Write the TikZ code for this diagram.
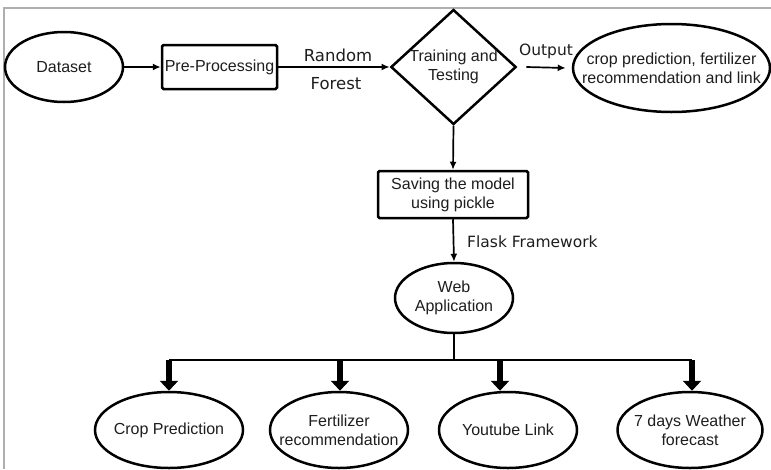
\documentclass[tikz,border=0pt]{standalone}
\usepackage{fontspec}
\setmainfont{Liberation Sans}
\newfontfamily\labfont{DejaVu Sans}
\usetikzlibrary{shapes.geometric,arrows.meta}
\definecolor{txt}{RGB}{30,30,30}
\definecolor{frame}{RGB}{175,175,175}
\tikzset{
  base/.style={draw=black, line width=2.5pt, text=txt, align=center, inner sep=0pt,
    font=\fontsize{16}{19}\selectfont},
  oval/.style={base, ellipse, inner xsep=-40pt, inner ysep=-20pt},
  box/.style={base, rectangle, rounded corners=1.5pt},
  dia/.style={base, diamond, aspect=1.09},
  lab/.style={text=txt, font=\labfont\fontsize{15.5}{18}\selectfont, inner sep=0pt},
  thin/.style={line width=1.7pt, -{Latex[length=8pt,width=7pt]}},
  thick/.style={line width=5.5pt, -{Triangle[length=10pt,width=18pt]}},
}
\begin{document}
\begin{tikzpicture}[x=1pt,y=-1pt]
\useasboundingbox (0,0) rectangle (771,469);
\fill[white] (0,0) rectangle (771,469);
\draw[frame, line width=1.2pt] (771,8) -- (4,8) -- (4,469);

\node[oval, minimum width=118pt, minimum height=70pt] (ds) at (64,67) {Dataset};
\node[box, minimum width=115pt, minimum height=44pt] (pp) at (219.5,67) {Pre-Processing};
\node[dia] (tt) at (453.5,67) {Training and\\Testing};
\node[oval, minimum width=197pt, minimum height=88pt] (out) at (671.5,68) {crop prediction, fertilizer\\recommendation and link};
\node[box, minimum width=150pt, minimum height=47pt] (sv) at (453,194.5) {Saving the model\\using pickle};
\node[oval, minimum width=118pt, minimum height=70pt] (web) at (454,298) {Web\\Application};

\node[oval, minimum width=148pt, minimum height=76pt] (c1) at (169,430) {Crop Prediction};
\node[oval, minimum width=138pt, minimum height=76pt] (c2) at (339,430) {Fertilizer\\recommendation};
\node[oval, minimum width=138pt, minimum height=76pt] (c3) at (508,430) {Youtube Link};
\node[oval, minimum width=145pt, minimum height=76pt] (c4) at (690,430) {7 days Weather\\forecast};

\draw[thin] (ds) -- (pp);
\draw[thin] (pp) -- (tt.west);
\node[lab, font=\labfont\fontsize{16.5}{19}\selectfont] (rnd) at (338,55) {Random};
\node[lab, font=\labfont\fontsize{16.5}{19}\selectfont] (frs) at (336,84) {Forest};

\coordinate (o1) at ([xshift=9pt]tt.east);
\coordinate (o2) at ([xshift=-6pt]out.west);
\draw[thin] (o1) -- (o2);
\node[lab] (outp) at (546,51) {Output};

\draw[thin] (tt.south) -- (sv.north);
\draw[thin] (sv.south) -- (web.north);
\node[lab, anchor=west] (flask) at (467,242) {Flask Framework};

\coordinate (bj) at (454,360);
\coordinate (b1) at (169,360);
\coordinate (b2) at (340,360);
\coordinate (b3) at (500,360);
\coordinate (b4) at (692,360);
\draw[line width=2.2pt] (web.south) -- (bj);
\draw[line width=2.2pt] (b1) -- (b4);
\draw[thick] (b1) -- (b1 |- c1.north);
\draw[thick] (b2) -- (b2 |- c2.north);
\draw[thick] (b3) -- (b3 |- c3.north);
\draw[thick] (b4) -- (b4 |- c4.north);
\end{tikzpicture}
\end{document}
